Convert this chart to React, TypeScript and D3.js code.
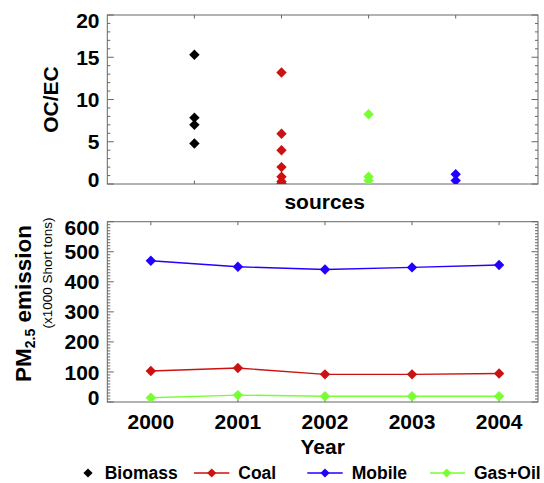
import React from 'react';
import * as d3 from 'd3';

// OC/EC ratios per source (upper panel)
const sources = ['Biomass', 'Coal', 'Gas+Oil', 'Mobile'];
const biomassRatio = [15.3, 7.85, 7.0, 4.8];
const coalRatio = [13.2, 5.95, 4.0, 2.0, 0.85, 0.3, 0.05];
const gasOilRatio = [8.25, 0.85, 0.4];
const mobileRatio = [1.15, 0.4];

// PM2.5 emission, x1000 short tons (lower panel)
const years = [2000, 2001, 2002, 2003, 2004];
const coalEmission = [103, 113, 92, 92, 95];
const mobileEmission = [470, 450, 441, 448, 456];
const gasOilEmission = [14, 23, 19, 19, 19];

const ratioTicks = [0, 5, 10, 15, 20];
const emissionTicks = [0, 100, 200, 300, 400, 500, 600];

const colors: Record<string, string> = {
  Biomass: '#000000',
  Coal: '#cc1111',
  Mobile: '#2200ff',
  'Gas+Oil': '#77ff33',
};

const font = '"Liberation Sans", Arial, Helvetica, sans-serif';
const frameColor = '#666';

const left = 107.3;
const right = 538;
const top1 = 15;
const bottom1 = 184;
const top2 = 221.7;
const bottom2 = 402;

const diamond = (r: number) => `M0,${-r}L${r},0L0,${r}L${-r},0Z`;

function YAxis({ scale, major, minorStep, top, bottom }: any) {
  const [d0, d1] = scale.domain();
  const minor = d3.range(d0, d1 + 0.001, minorStep).filter((v: number) => !major.includes(v));
  return (
    <g stroke={frameColor} strokeWidth={1}>
      {minor.map((v: number) => (
        <g key={'m' + v}>
          <line x1={left} x2={left + 3} y1={scale(v)} y2={scale(v)} />
          <line x1={right} x2={right - 3} y1={scale(v)} y2={scale(v)} />
        </g>
      ))}
      {major.map((v: number) => (
        <g key={'M' + v}>
          <line x1={left} x2={left + 6.5} y1={scale(v)} y2={scale(v)} />
          <line x1={right} x2={right - 6.5} y1={scale(v)} y2={scale(v)} />
          <text
            x={99.5}
            y={Math.min(Math.max(scale(v), top + 5.5), bottom - 5)}
            dy="0.36em"
            textAnchor="end"
            stroke="none"
            fill="#000"
            fontSize={21}
            fontWeight="bold"
            fontFamily={font}
          >
            {v}
          </text>
        </g>
      ))}
    </g>
  );
}

export default function App() {
  const xSrc = d3.scaleLinear().domain([0, 4.945]).range([left, right]);
  const yRatio = d3.scaleLinear().domain([0, 20]).range([bottom1, top1]);
  const xYear = d3.scaleLinear().domain([1999.5, 2004.447]).range([left, right]);
  const yEm = d3.scaleLinear().domain([0, 600]).range([bottom2, top2]);

  const ratioSets: [string, number[]][] = [
    ['Biomass', biomassRatio],
    ['Coal', coalRatio],
    ['Gas+Oil', gasOilRatio],
    ['Mobile', mobileRatio],
  ];
  const emissionSets: [string, number[]][] = [
    ['Mobile', mobileEmission],
    ['Coal', coalEmission],
    ['Gas+Oil', gasOilEmission],
  ];

  const line = d3
    .line<number>()
    .x((_, i) => xYear(years[i]))
    .y((d) => yEm(d));

  const legend = [
    { name: 'Biomass', marker: 88, text: 104.7, line: null as null | [number, number] },
    { name: 'Coal', marker: 211.7, text: 238.3, line: [194, 229.3] as [number, number] },
    { name: 'Mobile', marker: 325, text: 351.7, line: [307.3, 342.7] as [number, number] },
    { name: 'Gas+Oil', marker: 446.7, text: 474, line: [430, 465] as [number, number] },
  ];

  return (
    <svg width={544} height={483} style={{ position: 'absolute', left: 0, top: 0 }}>
      <rect width={544} height={483} fill="#fff" />
      <defs>
        <clipPath id="clipTop">
          <rect x={left} y={top1} width={right - left} height={bottom1 - top1} />
        </clipPath>
        <clipPath id="clipBottom">
          <rect x={left} y={top2} width={right - left} height={bottom2 - top2} />
        </clipPath>
      </defs>

      {/* upper panel: OC/EC by source */}
      <rect x={left} y={top1} width={right - left} height={bottom1 - top1} fill="none" stroke={frameColor} />
      <YAxis scale={yRatio} major={ratioTicks} minorStep={1} top={top1} bottom={bottom1} />
      {sources.map((s, i) => (
        <g key={s} stroke={frameColor}>
          <line x1={xSrc(i + 1)} x2={xSrc(i + 1)} y1={bottom1} y2={bottom1 - 3.5} />
          <line x1={xSrc(i + 1)} x2={xSrc(i + 1)} y1={top1} y2={top1 + 3.5} />
        </g>
      ))}
      <g clipPath="url(#clipTop)">
        {ratioSets.map(([name, vals]) =>
          vals.map((v, j) => (
            <path
              key={name + j}
              d={diamond(5.2)}
              transform={`translate(${xSrc(sources.indexOf(name) + 1)},${yRatio(v)})`}
              fill={colors[name]}
            />
          ))
        )}
      </g>
      <text
        transform={`translate(57.5,${(top1 + bottom1) / 2}) rotate(-90)`}
        textAnchor="middle"
        fontSize={21}
        fontWeight="bold"
        fontFamily={font}
      >
        OC/EC
      </text>
      <text x={324.7} y={209} textAnchor="middle" fontSize={21} fontWeight="bold" fontFamily={font}>
        sources
      </text>

      {/* lower panel: emissions by year */}
      <rect x={left} y={top2} width={right - left} height={bottom2 - top2} fill="none" stroke={frameColor} />
      <YAxis scale={yEm} major={emissionTicks} minorStep={10} top={top2} bottom={bottom2} />
      {years.map((yr) => (
        <g key={yr}>
          <line x1={xYear(yr)} x2={xYear(yr)} y1={bottom2} y2={bottom2 - 3.5} stroke={frameColor} />
          <line x1={xYear(yr)} x2={xYear(yr)} y1={top2} y2={top2 + 3.5} stroke={frameColor} />
          <text x={xYear(yr)} y={429} textAnchor="middle" fontSize={21} fontWeight="bold" fontFamily={font}>
            {yr}
          </text>
        </g>
      ))}
      <g clipPath="url(#clipBottom)">
        {emissionSets.map(([name, vals]) => (
          <g key={name}>
            <path d={line(vals) || ''} fill="none" stroke={colors[name]} strokeWidth={1.4} />
            {vals.map((v, i) => (
              <path
                key={i}
                d={diamond(5.2)}
                transform={`translate(${xYear(years[i])},${yEm(v)})`}
                fill={colors[name]}
              />
            ))}
          </g>
        ))}
      </g>
      <text x={(left + right) / 2} y={454} textAnchor="middle" fontSize={21} fontWeight="bold" fontFamily={font}>
        Year
      </text>
      <text
        transform="translate(30.5,303.5) rotate(-90)"
        textAnchor="middle"
        fontSize={22.5}
        fontWeight="bold"
        fontFamily={font}
      >
        PM<tspan fontSize={14} dy={4}>2.5</tspan>
        <tspan dy={-4}> emission</tspan>
      </text>
      <text
        transform="translate(52,273) rotate(-90)"
        textAnchor="middle"
        fontSize={13.5}
        fontFamily={font}
      >
        (x1000 Short tons)
      </text>

      {/* legend */}
      {legend.map((l) => (
        <g key={l.name}>
          {l.line && (
            <line x1={l.line[0]} x2={l.line[1]} y1={473} y2={473} stroke={colors[l.name]} strokeWidth={1.4} />
          )}
          <path d={diamond(4.6)} transform={`translate(${l.marker},473)`} fill={colors[l.name]} />
          <text x={l.text} y={479.3} fontSize={17.5} fontWeight="bold" fontFamily={font}>
            {l.name}
          </text>
        </g>
      ))}
    </svg>
  );
}
